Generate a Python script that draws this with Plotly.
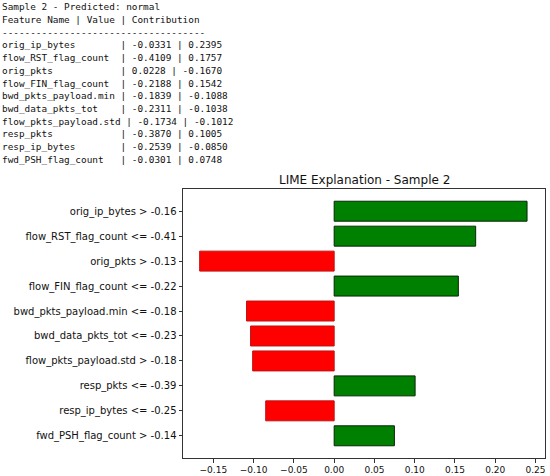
import plotly.graph_objects as go

# LIME output for sample 2
sample_title = "Sample 2 - Predicted: normal"
header = "Feature Name | Value | Contribution"

features = ["orig_ip_bytes", "flow_RST_flag_count", "orig_pkts", "flow_FIN_flag_count",
            "bwd_pkts_payload.min", "bwd_data_pkts_tot", "flow_pkts_payload.std",
            "resp_pkts", "resp_ip_bytes", "fwd_PSH_flag_count"]
feat_values = [-0.0331, -0.4109, 0.0228, -0.2188, -0.1839, -0.2311, -0.1734, -0.3870, -0.2539, -0.0301]
contribs = [0.2395, 0.1757, -0.1670, 0.1542, -0.1088, -0.1038, -0.1012, 0.1005, -0.0850, 0.0748]
bar_labels = ["orig_ip_bytes > -0.16", "flow_RST_flag_count <= -0.41", "orig_pkts > -0.13",
              "flow_FIN_flag_count <= -0.22", "bwd_pkts_payload.min <= -0.18",
              "bwd_data_pkts_tot <= -0.23", "flow_pkts_payload.std > -0.18",
              "resp_pkts <= -0.39", "resp_ip_bytes <= -0.25", "fwd_PSH_flag_count > -0.14"]
x_ticks = [-0.15, -0.10, -0.05, 0.00, 0.05, 0.10, 0.15, 0.20, 0.25]

W, H = 550, 476
ml, mr, mt, mb = 183, 5, 189, 18
pw, ph = W - ml - mr, H - mt - mb

def px(x):
  return (x - ml) / pw

def py(y):
  return (H - mb - y) / ph

colors = ["green" if c > 0 else "red" for c in contribs]
edges = ["#062806" if c > 0 else "#c01010" for c in contribs]

fig = go.Figure()
fig.add_trace(go.Bar(
  x=contribs, y=bar_labels, orientation="h", width=0.8,
  marker=dict(color=colors, line=dict(color=edges, width=1)),
  hoverinfo="skip"
))

# text printout above the chart
lines = [sample_title, header, "-" * 36]
for name, v, c in zip(features, feat_values, contribs):
  lines.append(f"{name:<20} | {v:.4f} | {c:.4f}")

for i, line in enumerate(lines):
  fig.add_annotation(
    text=line.replace(" ", "\u00a0"), xref="paper", yref="paper",
    x=px(1), y=py(6.5 + 12.75 * i), xanchor="left", yanchor="middle",
    showarrow=False, borderpad=0,
    font=dict(family="DejaVu Sans Mono", size=9.4, color="#111111")
  )

fig.add_annotation(
  text="LIME Explanation - Sample 2", xref="paper", yref="paper",
  x=0.5, y=py(180), xanchor="center", yanchor="middle", showarrow=False,
  font=dict(family="DejaVu Sans", size=12, color="#111111")
)

fig.update_layout(
  width=W, height=H, margin=dict(l=ml, r=mr, t=mt, b=mb),
  paper_bgcolor="white", plot_bgcolor="white", showlegend=False,
  bargap=0.2
)
fig.update_xaxes(
  range=[-0.1877, 0.2618], tickvals=x_ticks, tickformat=".2f",
  showgrid=False, zeroline=False, showline=True, mirror=True, automargin=False,
  linecolor="#333333", linewidth=1, ticks="outside", ticklen=3.5,
  tickcolor="#333333", tickfont=dict(family="DejaVu Sans", size=9, color="#111111")
)
fig.update_yaxes(
  categoryorder="array", categoryarray=bar_labels[::-1], range=[-0.89, 9.89],
  showgrid=False, zeroline=False, showline=True, mirror=True, automargin=False,
  linecolor="#333333", linewidth=1, ticks="outside", ticklen=3.5,
  tickcolor="#333333", tickfont=dict(family="DejaVu Sans", size=10, color="#111111")
)

# drop the default page margin so the figure sits at the window corner
fig.write_html("out.html", config={"displayModeBar": False},
               post_script="document.body.style.margin='0';")
